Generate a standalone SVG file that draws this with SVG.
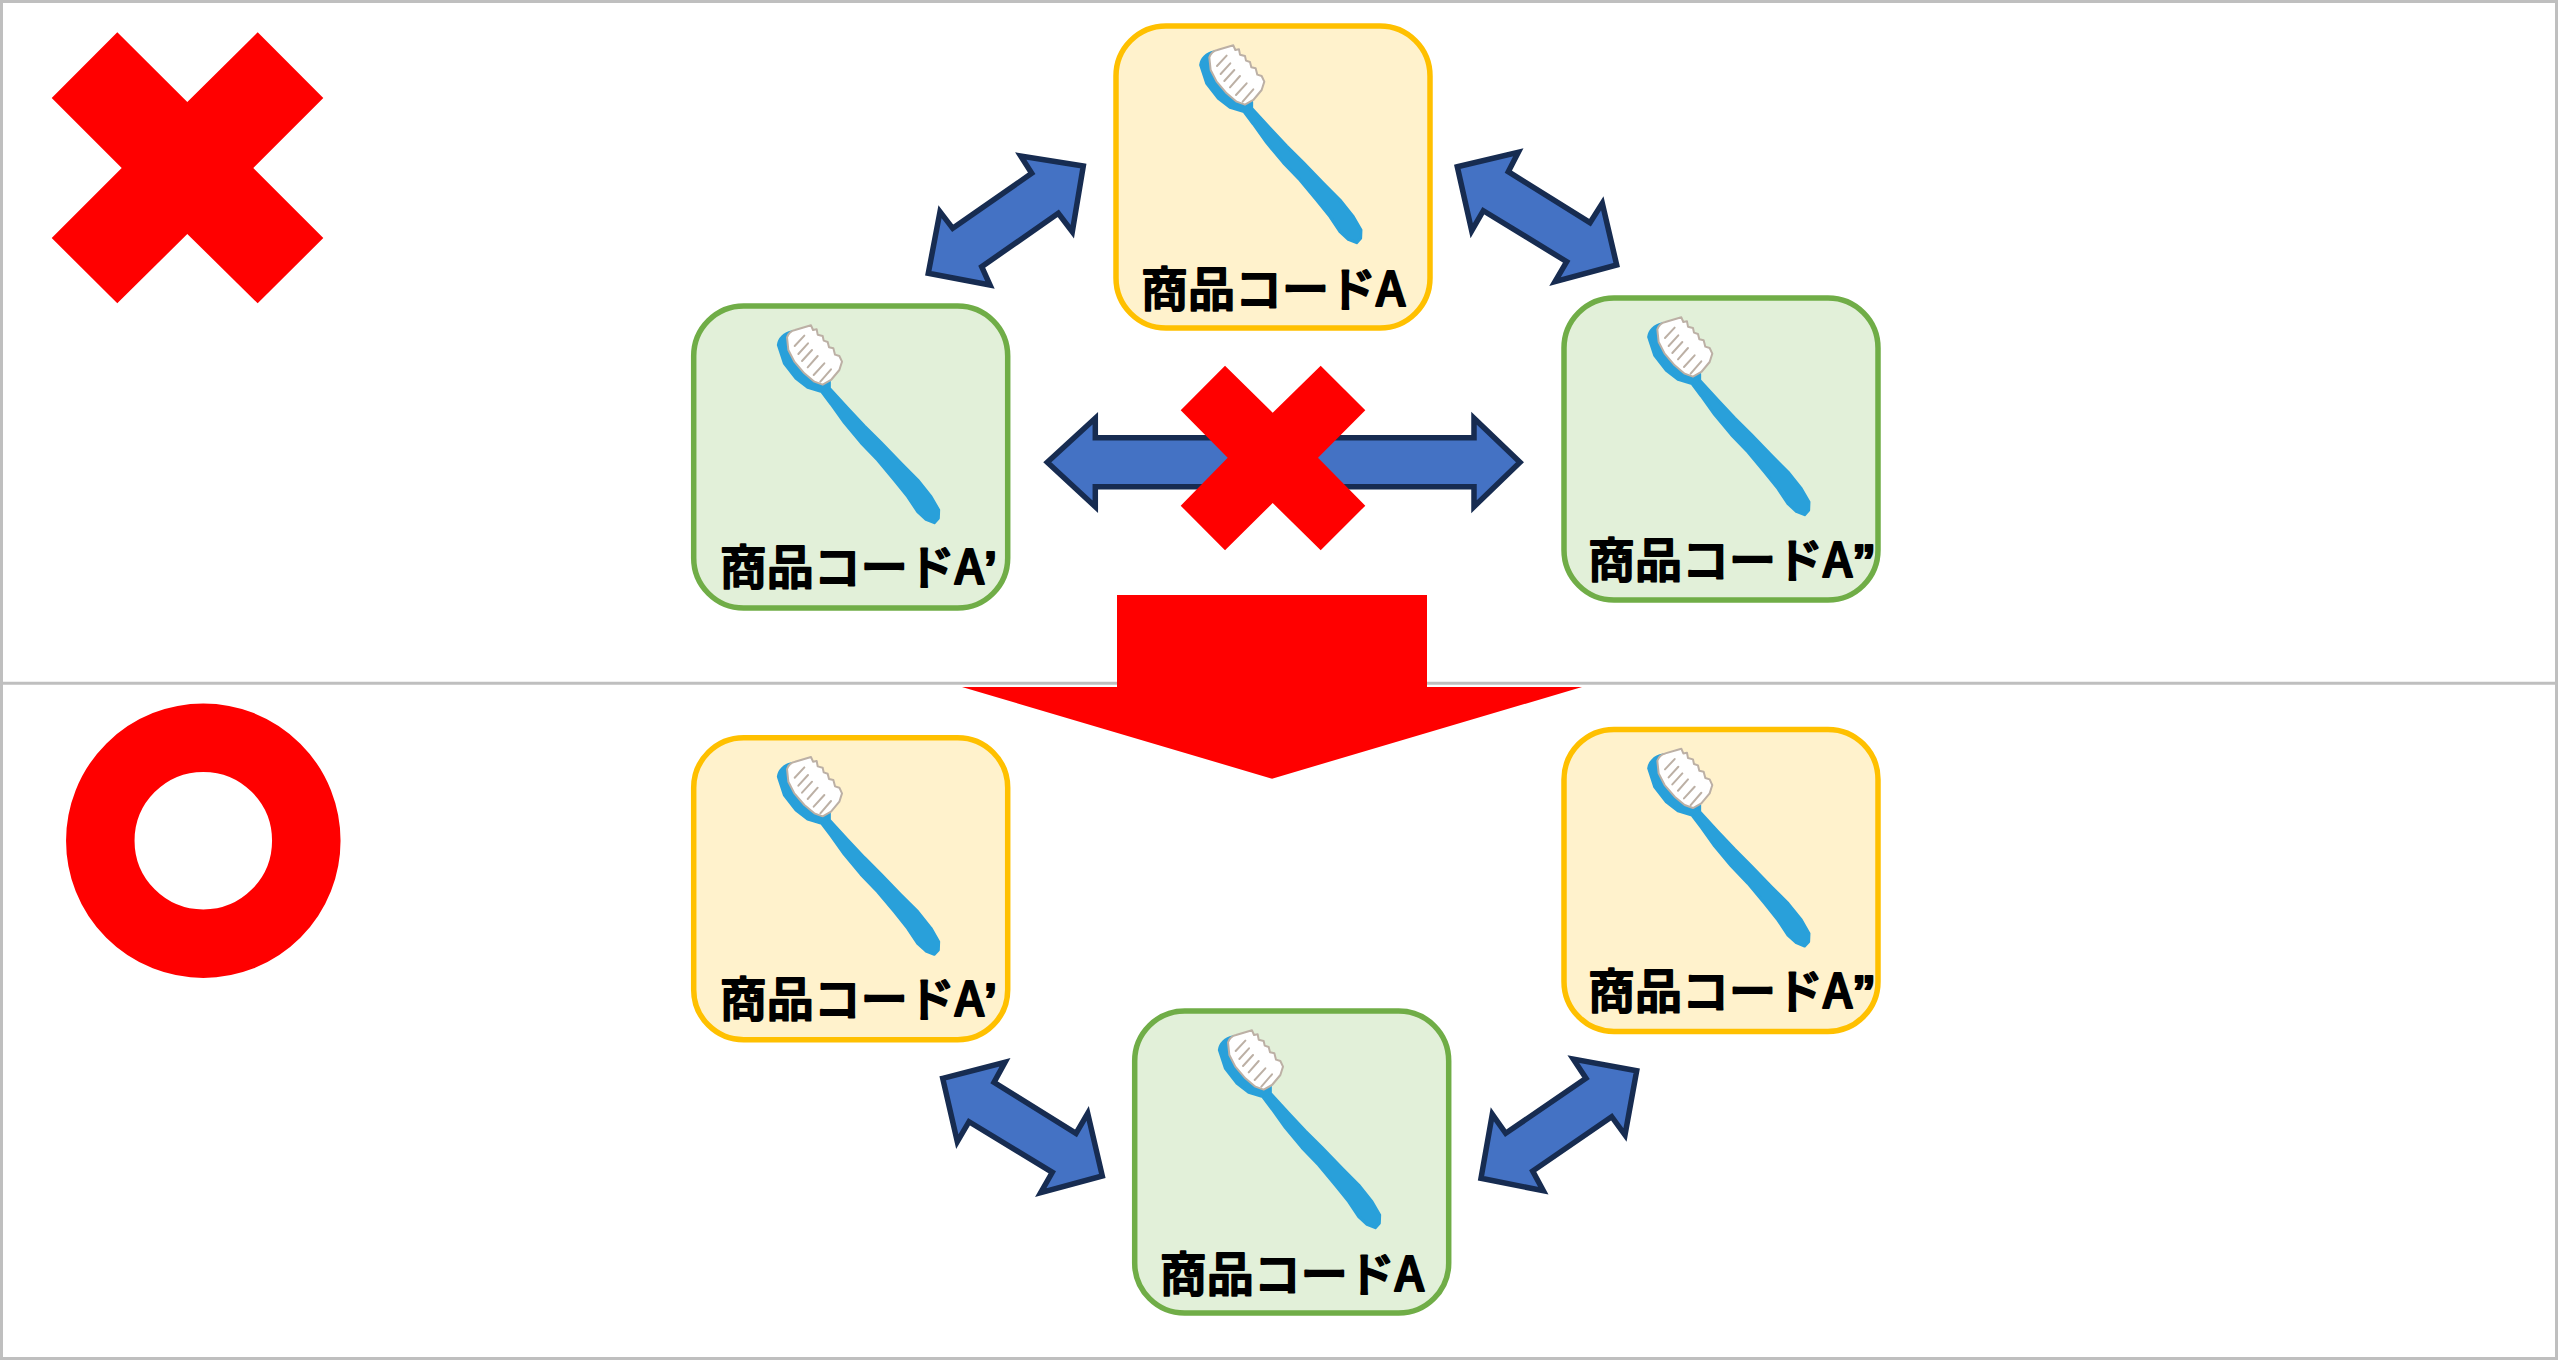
<svg xmlns="http://www.w3.org/2000/svg" xmlns:xlink="http://www.w3.org/1999/xlink" width="2558" height="1360" viewBox="0 0 2558 1360">
<style>
.frame{fill:none;stroke:#bfbfbf;stroke-width:3}
.red{fill:#ff0000}
.box{stroke-width:5.5}
.y{fill:#fff2cc;stroke:#ffc000}
.g{fill:#e2f0d9;stroke:#70ad47}
.dbl{fill:#4472c4;stroke:#172c51;stroke-width:5.5;stroke-miterlimit:10}
.lbl{font-family:"Noto Sans CJK JP","Noto Sans",sans-serif;font-weight:500;font-size:47px;fill:#000;stroke:#000;stroke-width:2;stroke-linejoin:round;stroke-linecap:round}
.q{font-family:"Liberation Sans",sans-serif;font-weight:700}
</style>
<defs>
<g id="brush">
<g transform="translate(1090 0) scale(.3333)">
<path d="M332 195C334 178 348 160 375 155L485 305L485 325L540 385L590 438L640 488L700 550L750 600L790 650L813 690L812 715L800 728L775 718L750 695L720 650L680 600L630 540L580 488L530 428L490 372L462 335L420 322L385 295L350 250Z" fill="#29a0da" stroke="#29a0da" stroke-width="9" stroke-linejoin="round"/>
<path d="M358 172C362 160 372 152 382 150L430 136L436 150L447 148L450 164L465 168L468 182L480 186L484 202L497 205L502 224L515 228L523 245L515 270L490 300L465 314L440 305L410 280L380 245L362 210Z" fill="#fff" stroke="#bcb0a5" stroke-width="6" stroke-linejoin="round"/>
<path d="M381 198L410 167M392 222L421 190M403 243L433 210M420 262L450 228M438 285L470 250M458 305L490 268" fill="none" stroke="#bcb0a5" stroke-width="6" stroke-linecap="round"/>
</g>
</g>
</defs>

<g id="frame">
<rect class="frame" x="1.5" y="1.5" width="2555" height="1357"/>
<line class="frame" x1="0" y1="683.3" x2="2558" y2="683.3"/>
</g>

<g id="mark-ng-big"><polygon class="red" points="117.3,32.3 187.3,102 257.7,32.3 323.3,98 253.3,168 323.3,238 257.7,303.3 187.3,234 117.3,303.3 51.7,238 121.7,168 51.7,98"/></g>
<g id="mark-ok-big"><circle cx="203.3" cy="840.7" r="103" fill="none" stroke="#ff0000" stroke-width="68.5"/></g>

<g id="node-top-a" transform="translate(0 0)">
<rect class="box y" x="1116" y="26" width="314" height="302" rx="50"/>
<use xlink:href="#brush" href="#brush"/>
<text class="lbl" x="1141" y="306">商品コードA</text>
</g>
<g id="node-top-a1" transform="translate(-422.3 280)">
<rect class="box g" x="1116" y="26" width="314" height="302" rx="50"/>
<use xlink:href="#brush" href="#brush"/>
<text class="lbl" x="1142" y="304">商品コードA<tspan class="q">’</tspan></text>
</g>
<g id="node-top-a2" transform="translate(448 272)">
<rect class="box g" x="1116" y="26" width="314" height="302" rx="50"/>
<use xlink:href="#brush" href="#brush"/>
<text class="lbl" x="1140" y="305">商品コードA<tspan class="q">”</tspan></text>
</g>
<g id="node-bottom-a1" transform="translate(-422.3 711.7)">
<rect class="box y" x="1116" y="26" width="314" height="302" rx="50"/>
<use xlink:href="#brush" href="#brush"/>
<text class="lbl" x="1142" y="304">商品コードA<tspan class="q">’</tspan></text>
</g>
<g id="node-bottom-a2" transform="translate(448 703.4)">
<rect class="box y" x="1116" y="26" width="314" height="302" rx="50"/>
<use xlink:href="#brush" href="#brush"/>
<text class="lbl" x="1140" y="305">商品コードA<tspan class="q">”</tspan></text>
</g>
<g id="node-bottom-a" transform="translate(18.7 985)">
<rect class="box g" x="1116" y="26" width="314" height="302" rx="50"/>
<use xlink:href="#brush" href="#brush"/>
<text class="lbl" x="1141" y="306">商品コードA</text>
</g>

<g id="connectors">
<polygon class="dbl" points="1083.3,166 1020.7,156 1031.7,173.3 952.7,228.3 940,211.7 928.3,273.3 990,285 981.7,266.7 1058.3,213.3 1072.3,231.7"/>
<polygon class="dbl" points="1457.3,166.7 1518.3,152.3 1508.3,171.7 1590,222.7 1602.3,203.3 1616.7,265 1555,281.7 1566.7,261.7 1483.3,210.7 1471.7,230.7"/>
<polygon class="dbl" points="1047.3,462.3 1095.3,418.3 1095.3,437.7 1474,437.7 1474,418.3 1520,462.3 1474,506.7 1474,486.7 1095.3,486.7 1095.3,506.7"/>
<polygon class="dbl" points="942.7,1078.3 1005,1062.3 994,1082.3 1076,1133.3 1087.7,1113.3 1102.3,1176 1040.7,1192.7 1052.3,1172.3 969,1121.7 957.3,1141.7"/>
<polygon class="dbl" points="1636.7,1070.7 1573.3,1059 1586,1078.3 1505.7,1133.3 1492.3,1114.3 1481,1178.3 1543.3,1190.7 1532.7,1171 1611.7,1116.7 1625,1135"/>
</g>

<g id="mark-ng-small"><polygon class="red" points="1225,365.7 1272.7,412.7 1320.7,365.7 1365.3,410.3 1318,457.7 1365.3,505.7 1320.7,550.3 1272.7,503 1225,550.3 1180.7,505.7 1227.7,457.7 1180.7,410.3"/></g>
<g id="big-arrow"><polygon class="red" points="1117,595 1427,595 1427,687 1582,687 1272,778.7 962,687 1117,687"/></g>
</svg>
